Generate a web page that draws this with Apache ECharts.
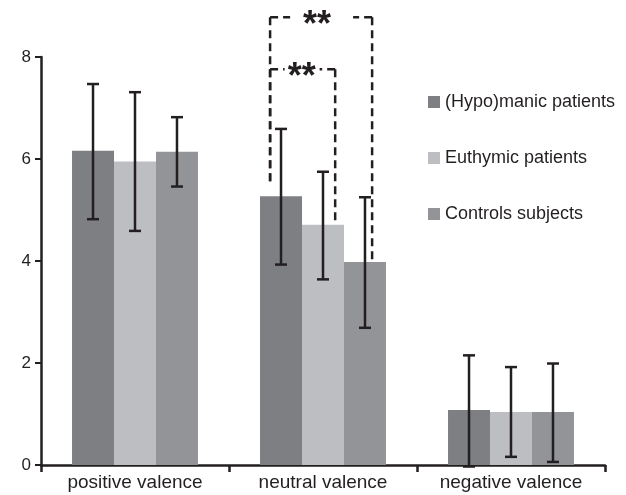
<!DOCTYPE html>
<html>
<head>
<meta charset="utf-8">
<script src="https://cdn.jsdelivr.net/npm/echarts@6/dist/echarts.min.js"></script>
<style>
html,body{margin:0;padding:0;background:#fff;}
#c{width:626px;height:495px;}
</style>
</head>
<body>
<div id="c"></div>
<script>
// ---- data ----
var categories = ['positive valence', 'neutral valence', 'negative valence'];
var seriesNames = ['(Hypo)manic patients', 'Euthymic patients', 'Controls subjects'];
var hypomanic = [6.16, 5.27, 1.08];
var hypomanicLow = [4.82, 3.93, -0.03];
var hypomanicHigh = [7.47, 6.59, 2.15];
var euthymic = [5.95, 4.71, 1.04];
var euthymicLow = [4.59, 3.64, 0.16];
var euthymicHigh = [7.31, 5.75, 1.92];
var controls = [6.14, 3.98, 1.04];
var controlsLow = [5.46, 2.69, 0.06];
var controlsHigh = [6.82, 5.25, 1.99];
var yTicks = [0, 2, 4, 6, 8];
// significance brackets: category index, bar from, bar to, top value, left bottom value, right bottom value
var sigCategory = [1, 1];
var sigFrom = [0, 0];
var sigTo = [1, 2];
var sigTop = [7.76, 8.78];
var sigLeftBottom = [5.54, 5.54];
var sigRightBottom = [4.80, 4.03];
var sigLabels = ['**', '**'];

// ---- styles ----
var colors = ['#7e7f83', '#bdbec2', '#939498'];
var ink = '#231f20';
var catGap = 0.33;
var sigStyle = [
  {leftOff: -0.26, rightOff: 0.29, gapL: 18, gapR: 17, textShift: -1},
  {leftOff: -0.26, rightOff: 0.17, gapL: 31, gapR: 32, textShift: -4}
];

var means = [hypomanic, euthymic, controls];
var lows = [hypomanicLow, euthymicLow, controlsLow];
var highs = [hypomanicHigh, euthymicHigh, controlsHigh];

function barWidthOf(api) {
  return api.size([1, 0])[0] * (1 - catGap) / 3;
}

var series = [];
for (var s = 0; s < 3; s++) {
  series.push({
    name: seriesNames[s],
    type: 'bar',
    data: means[s],
    barGap: '0%',
    barCategoryGap: (catGap * 100) + '%',
    itemStyle: {color: colors[s]},
    z: 2
  });
}
for (var s2 = 0; s2 < 3; s2++) {
  (function (idx) {
    var d = [];
    for (var i = 0; i < categories.length; i++) d.push([i, lows[idx][i], highs[idx][i]]);
    series.push({
      type: 'custom',
      name: 'err' + idx,
      data: d,
      z: 5,
      silent: true,
      encode: {x: 0, y: [1, 2]},
      renderItem: function (params, api) {
        var bw = barWidthOf(api);
        var lo = api.coord([api.value(0), api.value(1)]);
        var hi = api.coord([api.value(0), api.value(2)]);
        var x = lo[0] + (idx - 1) * bw;
        var cap = 6;
        var st = {stroke: ink, lineWidth: 2.5, fill: null};
        return {
          type: 'group',
          children: [
            {type: 'line', shape: {x1: x, y1: lo[1], x2: x, y2: hi[1]}, style: st},
            {type: 'line', shape: {x1: x - cap, y1: lo[1], x2: x + cap, y2: lo[1]}, style: st},
            {type: 'line', shape: {x1: x - cap, y1: hi[1], x2: x + cap, y2: hi[1]}, style: st}
          ]
        };
      }
    });
  })(s2);
}

var sigData = [];
for (var k = 0; k < sigCategory.length; k++) {
  sigData.push([sigCategory[k], sigTop[k], sigLeftBottom[k], sigRightBottom[k], sigFrom[k], sigTo[k], k]);
}
series.push({
  type: 'custom',
  name: 'sig',
  data: sigData,
  z: 6,
  silent: true,
  clip: false,
  encode: {x: 0, y: 1},
  renderItem: function (params, api) {
    var bw = barWidthOf(api);
    var k = api.value(6);
    var stl = sigStyle[k];
    var cat = api.value(0);
    var top = api.coord([cat, api.value(1)]);
    var lb = api.coord([cat, api.value(2)]);
    var rb = api.coord([cat, api.value(3)]);
    var lx = top[0] + (api.value(4) - 1) * bw + stl.leftOff * bw;
    var rx = top[0] + (api.value(5) - 1) * bw + stl.rightOff * bw;
    var ty = top[1];
    var cx = (lx + rx) / 2;
    var fs = 36;
    var st = {stroke: ink, lineWidth: 2.5, fill: null, lineDash: [8, 5]};
    return {
      type: 'group',
      children: [
        {type: 'line', shape: {x1: lx, y1: ty, x2: cx - stl.gapL, y2: ty}, style: st},
        {type: 'line', shape: {x1: lx, y1: ty, x2: lx, y2: lb[1]}, style: st},
        {type: 'line', shape: {x1: rx, y1: ty, x2: cx + stl.gapR, y2: ty}, style: st},
        {type: 'line', shape: {x1: rx, y1: ty, x2: rx, y2: rb[1]}, style: st},
        {type: 'text', x: cx + stl.textShift, y: ty + 1 + 0.21 * fs, style: {text: sigLabels[k], fill: ink, fontSize: fs, fontFamily: 'Liberation Sans', fontWeight: 'bold', align: 'center', verticalAlign: 'middle'}}
      ]
    };
  }
});

var chart = echarts.init(document.getElementById('c'), null, {renderer: 'canvas'});
chart.setOption({
  animation: false,
  backgroundColor: '#fff',
  textStyle: {fontFamily: 'Liberation Sans', color: ink},
  grid: {left: 41, right: 21, top: 57, bottom: 30, containLabel: false},
  legend: {
    data: seriesNames,
    orient: 'vertical',
    left: 423,
    top: 88,
    itemWidth: 12,
    itemHeight: 12,
    itemGap: 38,
    icon: 'rect',
    selectedMode: false,
    textStyle: {fontSize: 18, color: ink, fontFamily: 'Liberation Sans'}
  },
  xAxis: {
    type: 'category',
    data: categories,
    axisLine: {lineStyle: {color: ink, width: 2.5}},
    axisTick: {show: true, alignWithLabel: false, length: 7, lineStyle: {color: ink, width: 2.5}},
    axisLabel: {fontSize: 19, color: ink, margin: 8, fontFamily: 'Liberation Sans'}
  },
  yAxis: {
    type: 'value',
    min: yTicks[0],
    max: yTicks[yTicks.length - 1],
    interval: yTicks[1] - yTicks[0],
    splitLine: {show: false},
    axisLine: {show: true, lineStyle: {color: ink, width: 2.5}},
    axisTick: {show: true, length: 6, lineStyle: {color: ink, width: 2}},
    axisLabel: {fontSize: 17, color: ink, margin: 10, fontFamily: 'Liberation Sans'}
  },
  series: series
});
</script>
</body>
</html>
